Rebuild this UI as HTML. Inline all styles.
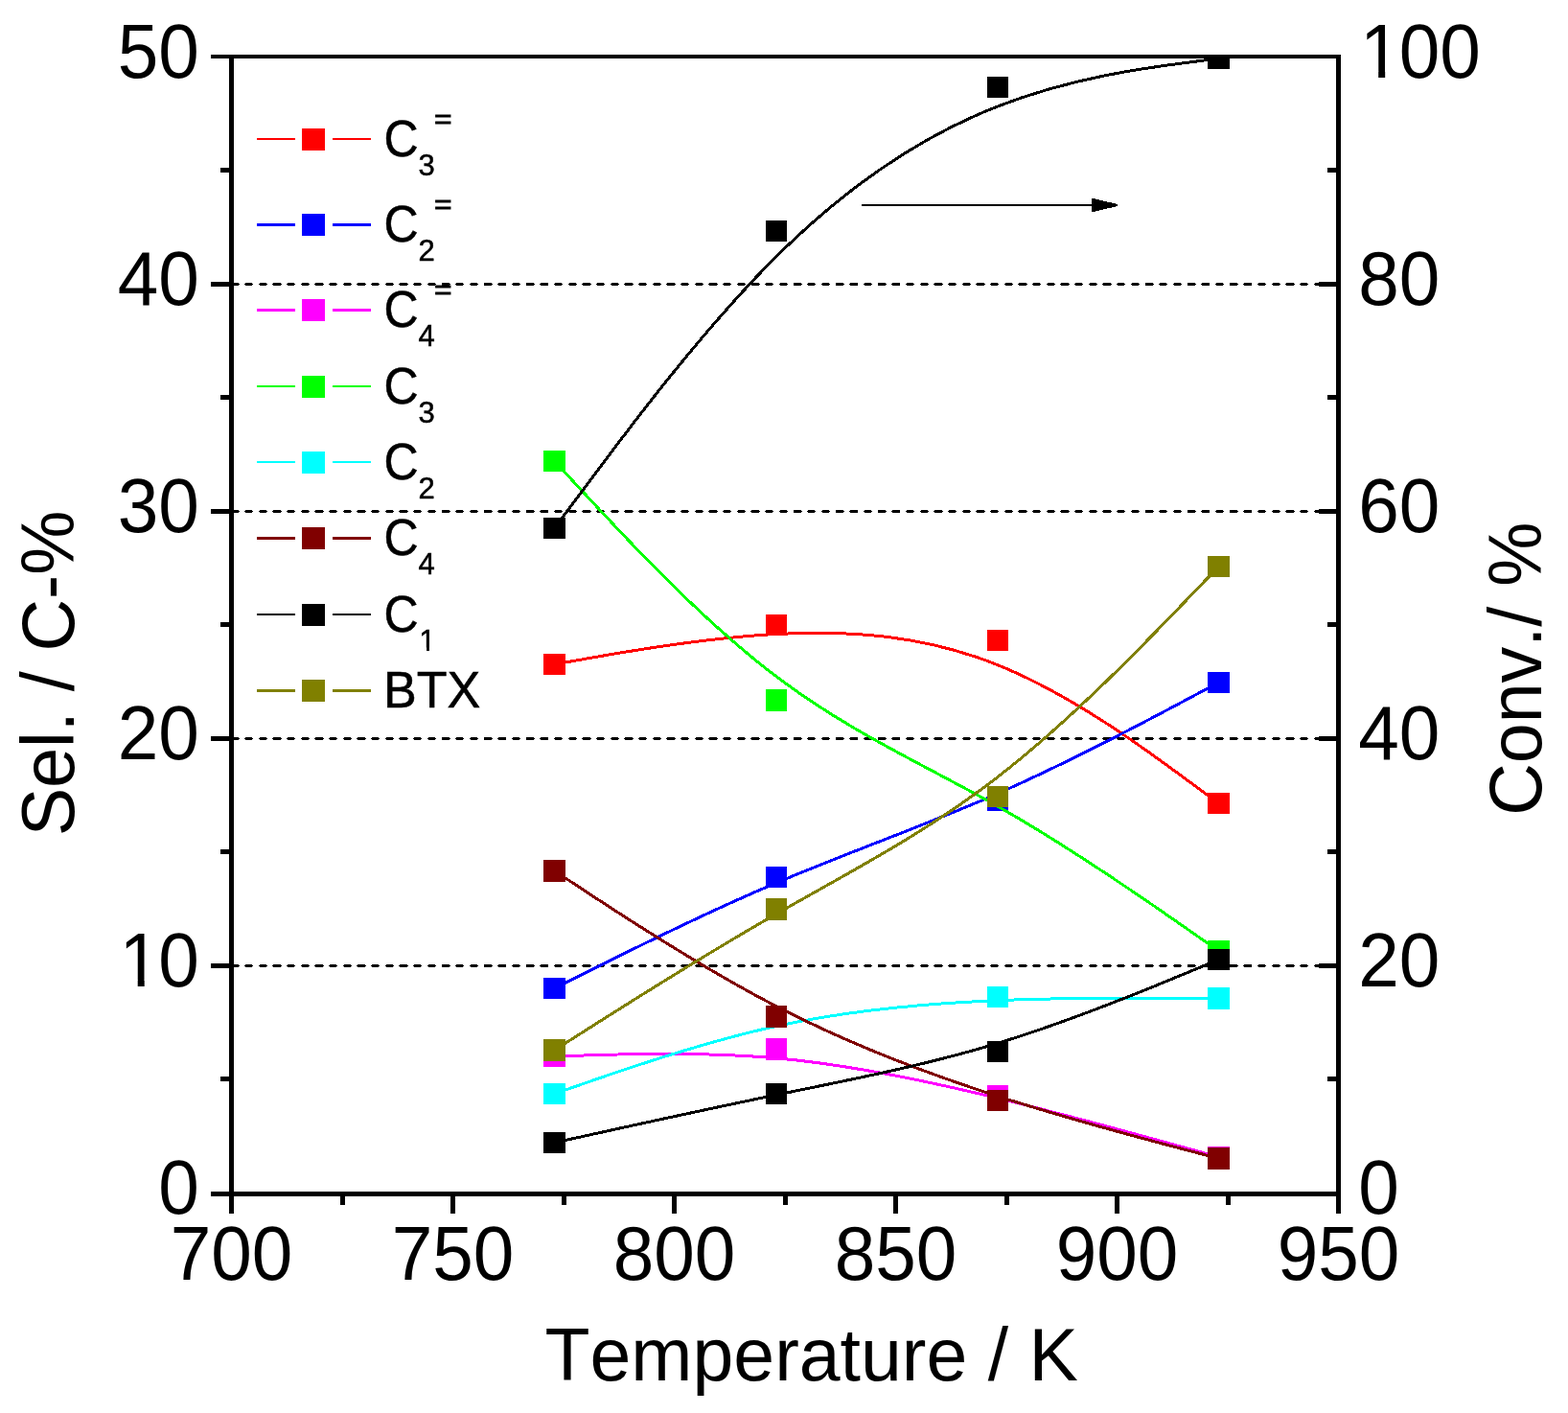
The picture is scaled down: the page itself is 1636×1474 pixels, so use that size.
<!DOCTYPE html>
<html lang="en"><head><meta charset="utf-8"><title>Selectivity and conversion vs temperature</title>
<style>
html,body{margin:0;padding:0;background:#fff;}
body{width:1636px;height:1474px;overflow:hidden;}
svg{display:block;}
text{font-family:"Liberation Sans",Arial,Helvetica,sans-serif;fill:#000;font-kerning:none;}
.tick{font-size:76.5px;}
.title{font-size:77px;}
.leg{font-size:51px;stroke:#000;stroke-width:0.5px;}
.sub{font-size:31px;stroke:#000;stroke-width:0.5px;}
</style></head><body>
<svg width="1636" height="1474" viewBox="0 0 1636 1474" role="img" aria-label="Selectivity and conversion versus temperature">
<defs>
<clipPath id="plot"><rect x="239" y="57" width="1160" height="1191"/></clipPath>
<clipPath id="one"><polygon points="-2.24,-56.03 224.12,-56.03 224.12,2.24 42.96,2.24 42.96,-6.22 27.98,-6.22 27.98,2.24 20.99,2.24 20.99,-6.22 -2.24,-6.22"/></clipPath>
<clipPath id="onesub"><polygon points="-0.91,-22.71 90.82,-22.71 90.82,0.91 17.41,0.91 17.41,-3.12 11.34,-3.12 11.34,0.91 8.51,0.91 8.51,-3.12 -0.91,-3.12"/></clipPath>
</defs>
<rect x="0" y="0" width="1636" height="1474" fill="#ffffff"/>
<g id="grid" stroke="#000" stroke-width="1" shape-rendering="crispEdges">
<line x1="241.2" y1="1006.5" x2="1394" y2="1006.5" stroke-dasharray="7.4 7.28"/>
<line x1="240.3" y1="1007.5" x2="1394" y2="1007.5" stroke-dasharray="9.2 5.48"/>
<line x1="241.2" y1="1008.5" x2="1394" y2="1008.5" stroke-dasharray="7.4 7.28"/>
<line x1="241.2" y1="769.5" x2="1394" y2="769.5" stroke-dasharray="7.4 7.28"/>
<line x1="240.3" y1="770.5" x2="1394" y2="770.5" stroke-dasharray="9.2 5.48"/>
<line x1="241.2" y1="771.5" x2="1394" y2="771.5" stroke-dasharray="7.4 7.28"/>
<line x1="241.2" y1="532.5" x2="1394" y2="532.5" stroke-dasharray="7.4 7.28"/>
<line x1="240.3" y1="533.5" x2="1394" y2="533.5" stroke-dasharray="9.2 5.48"/>
<line x1="241.2" y1="534.5" x2="1394" y2="534.5" stroke-dasharray="7.4 7.28"/>
<line x1="241.2" y1="295.5" x2="1394" y2="295.5" stroke-dasharray="7.4 7.28"/>
<line x1="240.3" y1="296.5" x2="1394" y2="296.5" stroke-dasharray="9.2 5.48"/>
<line x1="241.2" y1="297.5" x2="1394" y2="297.5" stroke-dasharray="7.4 7.28"/>
</g>
<g id="data" clip-path="url(#plot)" shape-rendering="crispEdges">
<g class="series-red">
<path d="M578.50 693.00 C578.50 693.00 578.50 693.00 617.08 686.17 C655.67 679.33 732.83 665.67 809.92 661.50 C887.00 657.33 964.00 662.67 1040.92 693.67 C1117.83 724.67 1194.67 781.33 1233.08 809.67 C1271.50 838.00 1271.50 838.00 1271.50 838.00" fill="none" stroke="#ff0000" stroke-width="3"/>
<rect x="567" y="682" width="23" height="22" fill="#ff0000"/>
<rect x="799" y="641" width="22" height="22" fill="#ff0000"/>
<rect x="1030" y="657" width="22" height="22" fill="#ff0000"/>
<rect x="1260" y="827" width="23" height="22" fill="#ff0000"/>
</g>
<g class="series-blue">
<path d="M578.50 1031.00 C578.50 1031.00 578.50 1031.00 617.08 1011.67 C655.67 992.33 732.83 953.67 809.92 921.00 C887.00 888.33 964.00 861.67 1040.92 827.83 C1117.83 794.00 1194.67 753.00 1233.08 732.50 C1271.50 712.00 1271.50 712.00 1271.50 712.00" fill="none" stroke="#0000ff" stroke-width="3"/>
<rect x="567" y="1020" width="23" height="22" fill="#0000ff"/>
<rect x="799" y="904" width="22" height="22" fill="#0000ff"/>
<rect x="1030" y="824" width="22" height="22" fill="#0000ff"/>
<rect x="1260" y="701" width="23" height="22" fill="#0000ff"/>
</g>
<g class="series-magenta">
<path d="M578.50 1102.00 C578.50 1102.00 578.50 1102.00 617.08 1100.75 C655.67 1099.50 732.83 1097.00 809.92 1103.83 C887.00 1110.67 964.00 1126.83 1040.92 1145.58 C1117.83 1164.33 1194.67 1185.67 1233.08 1196.33 C1271.50 1207.00 1271.50 1207.00 1271.50 1207.00" fill="none" stroke="#ff00ff" stroke-width="3"/>
<rect x="567" y="1091" width="23" height="22" fill="#ff00ff"/>
<rect x="799" y="1083" width="22" height="23" fill="#ff00ff"/>
<rect x="1030" y="1132" width="22" height="22" fill="#ff00ff"/>
<rect x="1260" y="1196" width="23" height="22" fill="#ff00ff"/>
</g>
<g class="series-green">
<path d="M578.50 481.00 C578.50 481.00 578.50 481.00 617.08 522.58 C655.67 564.17 732.83 647.33 809.92 705.67 C887.00 764.00 964.00 797.50 1040.92 841.08 C1117.83 884.67 1194.67 938.33 1233.08 965.17 C1271.50 992.00 1271.50 992.00 1271.50 992.00" fill="none" stroke="#00ff00" stroke-width="3"/>
<rect x="567" y="470" width="23" height="22" fill="#00ff00"/>
<rect x="799" y="719" width="22" height="23" fill="#00ff00"/>
<rect x="1030" y="820" width="22" height="22" fill="#00ff00"/>
<rect x="1260" y="981" width="23" height="22" fill="#00ff00"/>
</g>
<g class="series-cyan">
<path d="M578.50 1141.00 C578.50 1141.00 578.50 1141.00 617.08 1127.58 C655.67 1114.17 732.83 1087.33 809.92 1070.50 C887.00 1053.67 964.00 1046.83 1040.92 1043.67 C1117.83 1040.50 1194.67 1041.00 1233.08 1041.25 C1271.50 1041.50 1271.50 1041.50 1271.50 1041.50" fill="none" stroke="#00ffff" stroke-width="3"/>
<rect x="567" y="1130" width="23" height="22" fill="#00ffff"/>
<rect x="799" y="1049" width="22" height="23" fill="#00ffff"/>
<rect x="1030" y="1029" width="22" height="22" fill="#00ffff"/>
<rect x="1260" y="1030" width="23" height="23" fill="#00ffff"/>
</g>
<g class="series-darkred">
<path d="M578.50 908.50 C578.50 908.50 578.50 908.50 617.08 933.83 C655.67 959.17 732.83 1009.83 809.92 1049.75 C887.00 1089.67 964.00 1118.83 1040.92 1143.50 C1117.83 1168.17 1194.67 1188.33 1233.08 1198.42 C1271.50 1208.50 1271.50 1208.50 1271.50 1208.50" fill="none" stroke="#800000" stroke-width="3"/>
<rect x="567" y="897" width="23" height="23" fill="#800000"/>
<rect x="799" y="1049" width="22" height="23" fill="#800000"/>
<rect x="1030" y="1137" width="22" height="22" fill="#800000"/>
<rect x="1260" y="1197" width="23" height="23" fill="#800000"/>
</g>
<g class="series-black">
<path d="M578.50 1192.00 C578.50 1192.00 578.50 1192.00 617.08 1183.50 C655.67 1175.00 732.83 1158.00 809.92 1142.17 C887.00 1126.33 964.00 1111.67 1040.92 1088.33 C1117.83 1065.00 1194.67 1033.00 1233.08 1017.00 C1271.50 1001.00 1271.50 1001.00 1271.50 1001.00" fill="none" stroke="#000000" stroke-width="3"/>
<rect x="567" y="1181" width="23" height="22" fill="#000000"/>
<rect x="799" y="1130" width="22" height="22" fill="#000000"/>
<rect x="1030" y="1086" width="22" height="22" fill="#000000"/>
<rect x="1260" y="990" width="23" height="22" fill="#000000"/>
</g>
<g class="series-olive">
<path d="M578.50 1095.50 C578.50 1095.50 578.50 1095.50 617.08 1071.00 C655.67 1046.50 732.83 997.50 809.92 953.42 C887.00 909.33 964.00 870.17 1040.92 810.58 C1117.83 751.00 1194.67 671.00 1233.08 631.00 C1271.50 591.00 1271.50 591.00 1271.50 591.00" fill="none" stroke="#808000" stroke-width="3"/>
<rect x="567" y="1084" width="23" height="23" fill="#808000"/>
<rect x="799" y="937" width="22" height="23" fill="#808000"/>
<rect x="1030" y="820" width="22" height="22" fill="#808000"/>
<rect x="1260" y="580" width="23" height="22" fill="#808000"/>
</g>
<g class="series-conv">
<path d="M578.50 551.00 C578.50 551.00 578.50 551.00 617.08 499.33 C655.67 447.67 732.83 344.33 809.92 267.67 C887.00 191.00 964.00 141.00 1040.92 111.00 C1117.83 81.00 1194.67 71.00 1233.08 66.00 C1271.50 61.00 1271.50 61.00 1271.50 61.00" fill="none" stroke="#000000" stroke-width="3"/>
<rect x="567" y="540" width="23" height="22" fill="#000000"/>
<rect x="799" y="230" width="22" height="22" fill="#000000"/>
<rect x="1030" y="80" width="22" height="22" fill="#000000"/>
<rect x="1260" y="50" width="23" height="22" fill="#000000"/>
</g>
</g>
<g id="axes" fill="#000" shape-rendering="crispEdges">
<rect x="220" y="57" width="1179" height="4"/>
<rect x="220" y="1243" width="1179" height="5"/>
<rect x="239" y="57" width="5" height="1209"/>
<rect x="1394" y="57" width="5" height="1209"/>
<rect x="230" y="1123" width="10" height="5"/>
<rect x="1385" y="1123" width="10" height="5"/>
<rect x="220" y="1005" width="20" height="5"/>
<rect x="1376" y="1005" width="19" height="5"/>
<rect x="230" y="886" width="10" height="5"/>
<rect x="1385" y="886" width="10" height="5"/>
<rect x="220" y="768" width="20" height="5"/>
<rect x="1376" y="768" width="19" height="5"/>
<rect x="230" y="649" width="10" height="5"/>
<rect x="1385" y="649" width="10" height="5"/>
<rect x="220" y="531" width="20" height="5"/>
<rect x="1376" y="531" width="19" height="5"/>
<rect x="230" y="412" width="10" height="5"/>
<rect x="1385" y="412" width="10" height="5"/>
<rect x="220" y="294" width="20" height="5"/>
<rect x="1376" y="294" width="19" height="5"/>
<rect x="230" y="175" width="10" height="5"/>
<rect x="1385" y="175" width="10" height="5"/>
<rect x="355" y="1247" width="5" height="10"/>
<rect x="470" y="1247" width="5" height="19"/>
<rect x="586" y="1247" width="5" height="10"/>
<rect x="701" y="1247" width="5" height="19"/>
<rect x="817" y="1247" width="5" height="10"/>
<rect x="932" y="1247" width="5" height="19"/>
<rect x="1048" y="1247" width="5" height="10"/>
<rect x="1163" y="1247" width="5" height="19"/>
<rect x="1279" y="1247" width="5" height="10"/>
</g>
<g id="arrow" fill="#000" shape-rendering="crispEdges">
<rect x="899" y="213" width="242" height="2"/>
<polygon points="1139,206.6 1166,213 1166,215 1139,221.4"/>
</g>
<g id="ylabels">
<text class="tick" transform="translate(165.25 1265.80) scale(1.0000 1.0300)">0</text>
<text class="tick" transform="translate(122.71 1028.80) scale(1.0000 1.0300)" clip-path="url(#one)"><tspan dx="1.87">1</tspan><tspan dx="-1.87">0</tspan></text>
<text class="tick" transform="translate(122.71 791.80) scale(1.0000 1.0300)">20</text>
<text class="tick" transform="translate(122.71 554.80) scale(1.0000 1.0300)">30</text>
<text class="tick" transform="translate(122.71 317.80) scale(1.0000 1.0300)">40</text>
<text class="tick" transform="translate(122.71 80.80) scale(1.0000 1.0300)">50</text>
</g>
<g id="y2labels">
<text class="tick" transform="translate(1417.20 1265.80) scale(1.0000 1.0300)">0</text>
<text class="tick" transform="translate(1417.20 1028.80) scale(1.0000 1.0300)">20</text>
<text class="tick" transform="translate(1417.20 791.80) scale(1.0000 1.0300)">40</text>
<text class="tick" transform="translate(1417.20 554.80) scale(1.0000 1.0300)">60</text>
<text class="tick" transform="translate(1417.20 317.80) scale(1.0000 1.0300)">80</text>
<text class="tick" transform="translate(1417.20 80.80) scale(1.0000 1.0300)" clip-path="url(#one)"><tspan dx="1.87">1</tspan><tspan dx="-1.87">00</tspan></text>
</g>
<g id="xlabels">
<text class="tick" transform="translate(177.68 1335.00) scale(1.0000 1.0300)">700</text>
<text class="tick" transform="translate(408.68 1335.00) scale(1.0000 1.0300)">750</text>
<text class="tick" transform="translate(639.68 1335.00) scale(1.0000 1.0300)">800</text>
<text class="tick" transform="translate(870.68 1335.00) scale(1.0000 1.0300)">850</text>
<text class="tick" transform="translate(1101.68 1335.00) scale(1.0000 1.0300)">900</text>
<text class="tick" transform="translate(1332.68 1335.00) scale(1.0000 1.0300)">950</text>
</g>
<text class="title" transform="translate(568.50 1439.60)">Temperature / K</text>
<text class="title" transform="translate(77.00 872.30) rotate(-90) scale(0.9800 1.0000)">Sel. / C-%</text>
<text class="title" transform="translate(1608.00 850.80) rotate(-90) scale(0.9800 1.0000)">Conv./ %</text>
<g id="legend">
<g shape-rendering="crispEdges" fill="#ff0000">
<rect x="268" y="144" width="40" height="2"/>
<rect x="347" y="144" width="40" height="2"/>
<rect x="315" y="134" width="24" height="23"/>
</g>
<text class="leg" transform="translate(400.40 162.90) scale(0.9800 1.0600)">C</text>
<text class="sub" transform="translate(436.60 182.60) scale(1.0000 1.0200)">3</text>
<text class="sub" transform="translate(453.30 134.00) scale(1.0000 0.8800)" style="stroke-width:1.3px">=</text>
<g shape-rendering="crispEdges" fill="#0000ff">
<rect x="268" y="233" width="40" height="3"/>
<rect x="347" y="233" width="40" height="3"/>
<rect x="315" y="223" width="24" height="23"/>
</g>
<text class="leg" transform="translate(400.40 251.90) scale(0.9800 1.0600)">C</text>
<text class="sub" transform="translate(436.60 271.60) scale(1.0000 1.0200)">2</text>
<text class="sub" transform="translate(453.30 223.00) scale(1.0000 0.8800)" style="stroke-width:1.3px">=</text>
<g shape-rendering="crispEdges" fill="#ff00ff">
<rect x="268" y="322" width="40" height="3"/>
<rect x="347" y="322" width="40" height="3"/>
<rect x="315" y="312" width="24" height="23"/>
</g>
<text class="leg" transform="translate(400.40 340.90) scale(0.9800 1.0600)">C</text>
<text class="sub" transform="translate(436.60 360.60) scale(1.0000 1.0200)">4</text>
<text class="sub" transform="translate(453.30 312.00) scale(1.0000 0.8800)" style="stroke-width:1.3px">=</text>
<g shape-rendering="crispEdges" fill="#00ff00">
<rect x="268" y="402" width="40" height="2"/>
<rect x="347" y="402" width="40" height="2"/>
<rect x="315" y="392" width="24" height="23"/>
</g>
<text class="leg" transform="translate(400.40 420.90) scale(0.9800 1.0600)">C</text>
<text class="sub" transform="translate(436.60 440.60) scale(1.0000 1.0200)">3</text>
<g shape-rendering="crispEdges" fill="#00ffff">
<rect x="268" y="481" width="40" height="2"/>
<rect x="347" y="481" width="40" height="2"/>
<rect x="315" y="471" width="24" height="23"/>
</g>
<text class="leg" transform="translate(400.40 499.90) scale(0.9800 1.0600)">C</text>
<text class="sub" transform="translate(436.60 519.60) scale(1.0000 1.0200)">2</text>
<g shape-rendering="crispEdges" fill="#800000">
<rect x="268" y="560" width="40" height="3"/>
<rect x="347" y="560" width="40" height="3"/>
<rect x="315" y="550" width="24" height="23"/>
</g>
<text class="leg" transform="translate(400.40 578.90) scale(0.9800 1.0600)">C</text>
<text class="sub" transform="translate(436.60 598.60) scale(1.0000 1.0200)">4</text>
<g shape-rendering="crispEdges" fill="#000000">
<rect x="268" y="640" width="40" height="2"/>
<rect x="347" y="640" width="40" height="2"/>
<rect x="315" y="630" width="24" height="23"/>
</g>
<text class="leg" transform="translate(400.40 658.90) scale(0.9800 1.0600)">C</text>
<text class="sub" transform="translate(436.60 678.60) scale(1.0000 1.0200)" clip-path="url(#onesub)"><tspan dx="0.76">1</tspan></text>
<g shape-rendering="crispEdges" fill="#808000">
<rect x="268" y="719" width="40" height="3"/>
<rect x="347" y="719" width="40" height="3"/>
<rect x="315" y="709" width="24" height="23"/>
</g>
<text class="leg" transform="translate(400.00 737.90) scale(1.0220 1.0370)">BTX</text>
</g>
</svg>
</body></html>
